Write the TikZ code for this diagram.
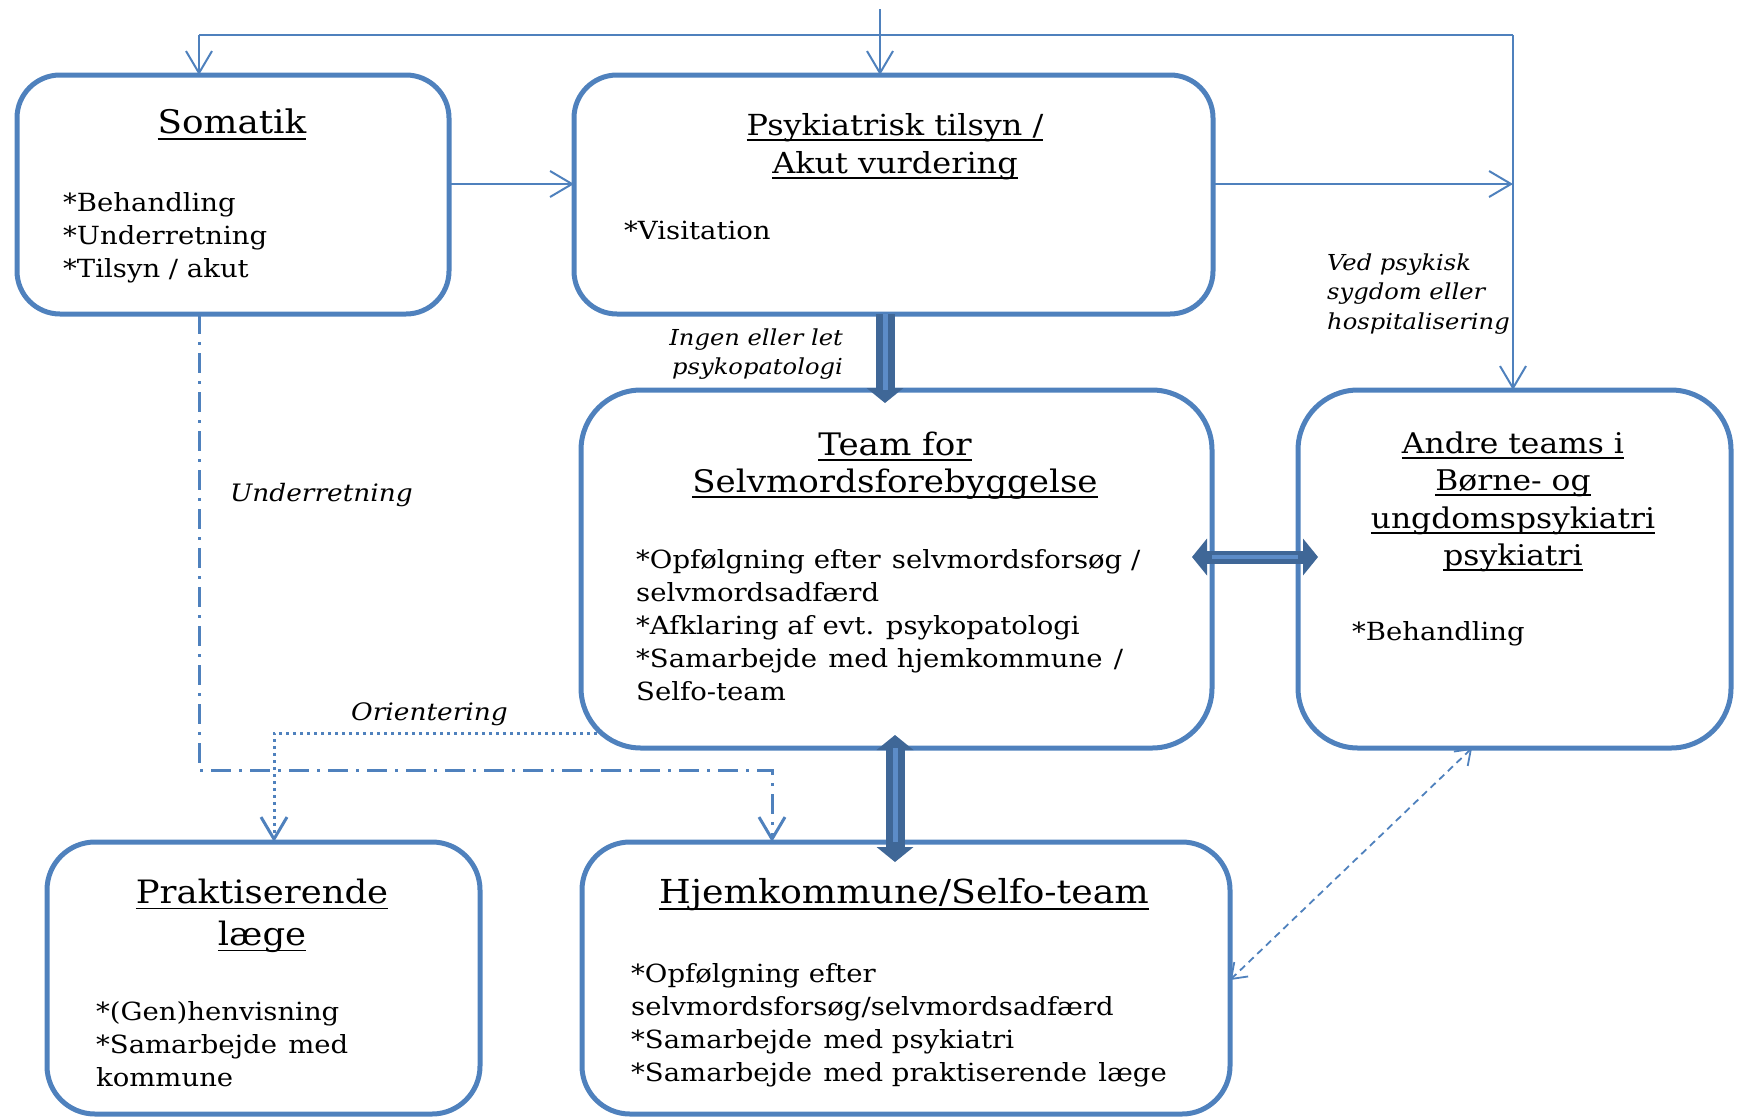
\documentclass[tikz,border=0pt]{standalone}
\usepackage{fontspec}
\setmainfont{DejaVu Serif}[FakeStretch=1.1]
\usetikzlibrary{arrows.meta}

\definecolor{boxblue}{HTML}{4F81BD}
\definecolor{darkblue}{HTML}{3F6797}
\definecolor{stripeblue}{HTML}{5C8CC8}

% multi-line blocks whose baseline is the first line
\newcommand{\linesL}[1]{\begin{tabular}[t]{@{}l@{}}#1\end{tabular}}
\newcommand{\linesC}[1]{\begin{tabular}[t]{@{}c@{}}#1\end{tabular}}
\newcommand{\linesR}[1]{\begin{tabular}[t]{@{}r@{}}#1\end{tabular}}
% underlined heading: a rule of fixed depth and weight below the words
\newlength{\ttlw}
\newcommand{\ttl}[1]{\settowidth{\ttlw}{#1}\rlap{\rule[-0.2em]{\ttlw}{0.06em}}#1}
% the slightly wider word gap used in the item lists
\newcommand{\dsp}{\hspace{0.45em}}

\tikzset{
  box/.style={draw=boxblue, line width=5pt, inner sep=0pt, outer sep=0pt},
  conn/.style={draw=boxblue, line width=2pt},
  openhead/.style={-{Straight Barb[length=22pt,width=26pt]}},
  openboth/.style={{Straight Barb[length=14pt,width=20pt]}-{Straight Barb[length=14pt,width=20pt]}},
  dashdot/.style={line width=3pt, dash pattern=on 20pt off 8pt on 3pt off 8pt},
  dots/.style={line width=3pt, dash pattern=on 3pt off 4pt},
  thickone/.style={draw=darkblue, line width=19pt,
    -{Triangle[length=15pt,width=37pt,line width=0pt]}},
  thickboth/.style={draw=darkblue, line width=#1,
    {Triangle[length=15pt,width=37pt,line width=0pt]}-{Triangle[length=15pt,width=37pt,line width=0pt]}},
  stripe/.style={draw=stripeblue, line width=#1},
  ttl/.style 2 args={font=\fontsize{#1}{#2}\selectfont, inner sep=0pt, anchor=base},
  itm/.style={font=\fontsize{25}{33}\selectfont, inner sep=0pt, anchor=base west},
  lblA/.style={font=\itshape\fontsize{22}{29.5}\selectfont, inner sep=0pt},
  lblB/.style={font=\itshape\fontsize{24}{30}\selectfont, inner sep=0pt, anchor=base west},
}

\begin{document}
\begin{tikzpicture}[x=1pt, y=-1pt]
\useasboundingbox (0,0) rectangle (1739,1117);

% boxes
\node[box, minimum width=432pt, minimum height=239pt, rounded corners=43pt] (som) at (233,194.5) {};
\node[box, minimum width=639pt, minimum height=239pt, rounded corners=43pt] (psy) at (893.5,194.5) {};
\node[box, minimum width=631pt, minimum height=358pt, rounded corners=60pt] (team) at (896.5,569) {};
\node[box, minimum width=433pt, minimum height=358pt, rounded corners=60pt] (andre) at (1514.5,569) {};
\node[box, minimum width=433pt, minimum height=272pt, rounded corners=48pt] (prak) at (263.5,978) {};
\node[box, minimum width=648pt, minimum height=272pt, rounded corners=48pt] (hjem) at (906,978) {};

% box texts
\node[ttl={32.5}{37.5}] (somT) at (232,133) {\ttl{Somatik}};
\node[itm] (somL) at (63,211) {\linesL{*Behandling\\{}*Underretning\\{}*Tilsyn / akut}};

\node[ttl={29}{38}] (psyT) at (895,135) {\linesC{\ttl{Psykiatrisk tilsyn /}\\\ttl{Akut vurdering}}};
\node[itm] (psyL) at (624,239) {*Visitation};

\node[ttl={31}{37}] (teamT) at (895,455) {\linesC{\ttl{Team for}\\\ttl{Selvmordsforebyggelse}}};
\node[itm] (teamL) at (636,568) {\linesL{*Opfølgning efter\dsp selvmordsforsøg /\\selvmordsadfærd\\{}*Afklaring af evt. psykopatologi\\{}*Samarbejde\dsp med hjemkommune\dsp /\\Selfo-team}};

\node[ttl={28.5}{37.5}] (andreT) at (1513,453) {\linesC{\ttl{Andre teams i}\\\ttl{Børne- og}\\\ttl{ungdomspsykiatri}\\\ttl{psykiatri}}};
\node[itm] (andreL) at (1352,640) {*Behandling};

\node[ttl={32.2}{42}] (prakT) at (262,903) {\linesC{\ttl{Praktiserende}\\\ttl{læge}}};
\node[itm] (prakL) at (96,1020) {\linesL{*(Gen)henvisning\\{}*Samarbejde\dsp med\\kommune}};

\node[ttl={33}{42}] (hjemT) at (904,903) {\ttl{Hjemkommune/Selfo-team}};
\node[itm] (hjemL) at (631,982) {\linesL{*Opfølgning efter\\selvmordsforsøg/selvmordsadfærd\\{}*Samarbejde\dsp med psykiatri\\{}*Samarbejde\dsp med praktiserende\dsp læge}};

% connector labels
\node[lblA, anchor=base east] (ingen) at (843,345) {\linesR{Ingen eller let\\psykopatologi}};
\node[lblA, anchor=base west] (ved) at (1327,270) {\linesL{Ved psykisk\\sygdom eller\\hospitalisering}};
\node[lblB] (under) at (230,501) {Underretning};
\node[lblB] (orient) at (351,720) {Orientering};

% routing points
\coordinate (feed) at (880,9);
\coordinate (busL) at (199,35);
\coordinate (busR) at (1513,35);
\coordinate (row1) at (0,184);
\coordinate (c885) at (885,0);
\coordinate (c895) at (895,0);
\coordinate (r557) at (0,557);
\coordinate (dd) at (199,770);
\coordinate (dr) at (772,770);
\coordinate (orStart) at (597,733);
\coordinate (orCorner) at (274,733);
\coordinate (c1472) at (1472,0);
\coordinate (r980) at (0,980);

% thin connectors
\draw[conn, openhead] (feed) -- (feed |- psy.north);
\draw[conn] (busL) -- (busR);
\draw[conn, openhead] (busL) -- (busL |- som.north);
\draw[conn, openhead] (busR) -- (busR |- andre.north);
\draw[conn, openhead] (som.east |- row1) -- (psy.west |- row1);
\draw[conn, openhead] (psy.east |- row1) -- (busR |- row1);

% notification and orientation lines
\draw[conn, dashdot, openhead] (som.south -| busL) -- (dd) -- (dr) -- (dr |- hjem.north);
\draw[conn, dots, openhead] (orStart) -- (orCorner) -- (orCorner |- prak.north);
\draw[conn, line width=1.8pt, dash pattern=on 7pt off 5pt, openboth] (andre.south -| c1472) -- (hjem.east |- r980);

% block arrows
\draw[thickone, shorten >=-13pt] (psy.south -| c885) -- (team.north -| c885);
\draw[stripe=5pt] (psy.south -| c885) -- (team.north -| c885);
\draw[thickboth=13pt, shorten <=-20pt, shorten >=-20pt] (team.east |- r557) -- (andre.west |- r557);
\draw[stripe=3.5pt] (team.east |- r557) -- (andre.west |- r557);
\draw[thickboth=19pt, shorten <=-13pt, shorten >=-20pt] (team.south -| c895) -- (hjem.north -| c895);
\draw[stripe=5pt] (team.south -| c895) -- (hjem.north -| c895);
\end{tikzpicture}
\end{document}
